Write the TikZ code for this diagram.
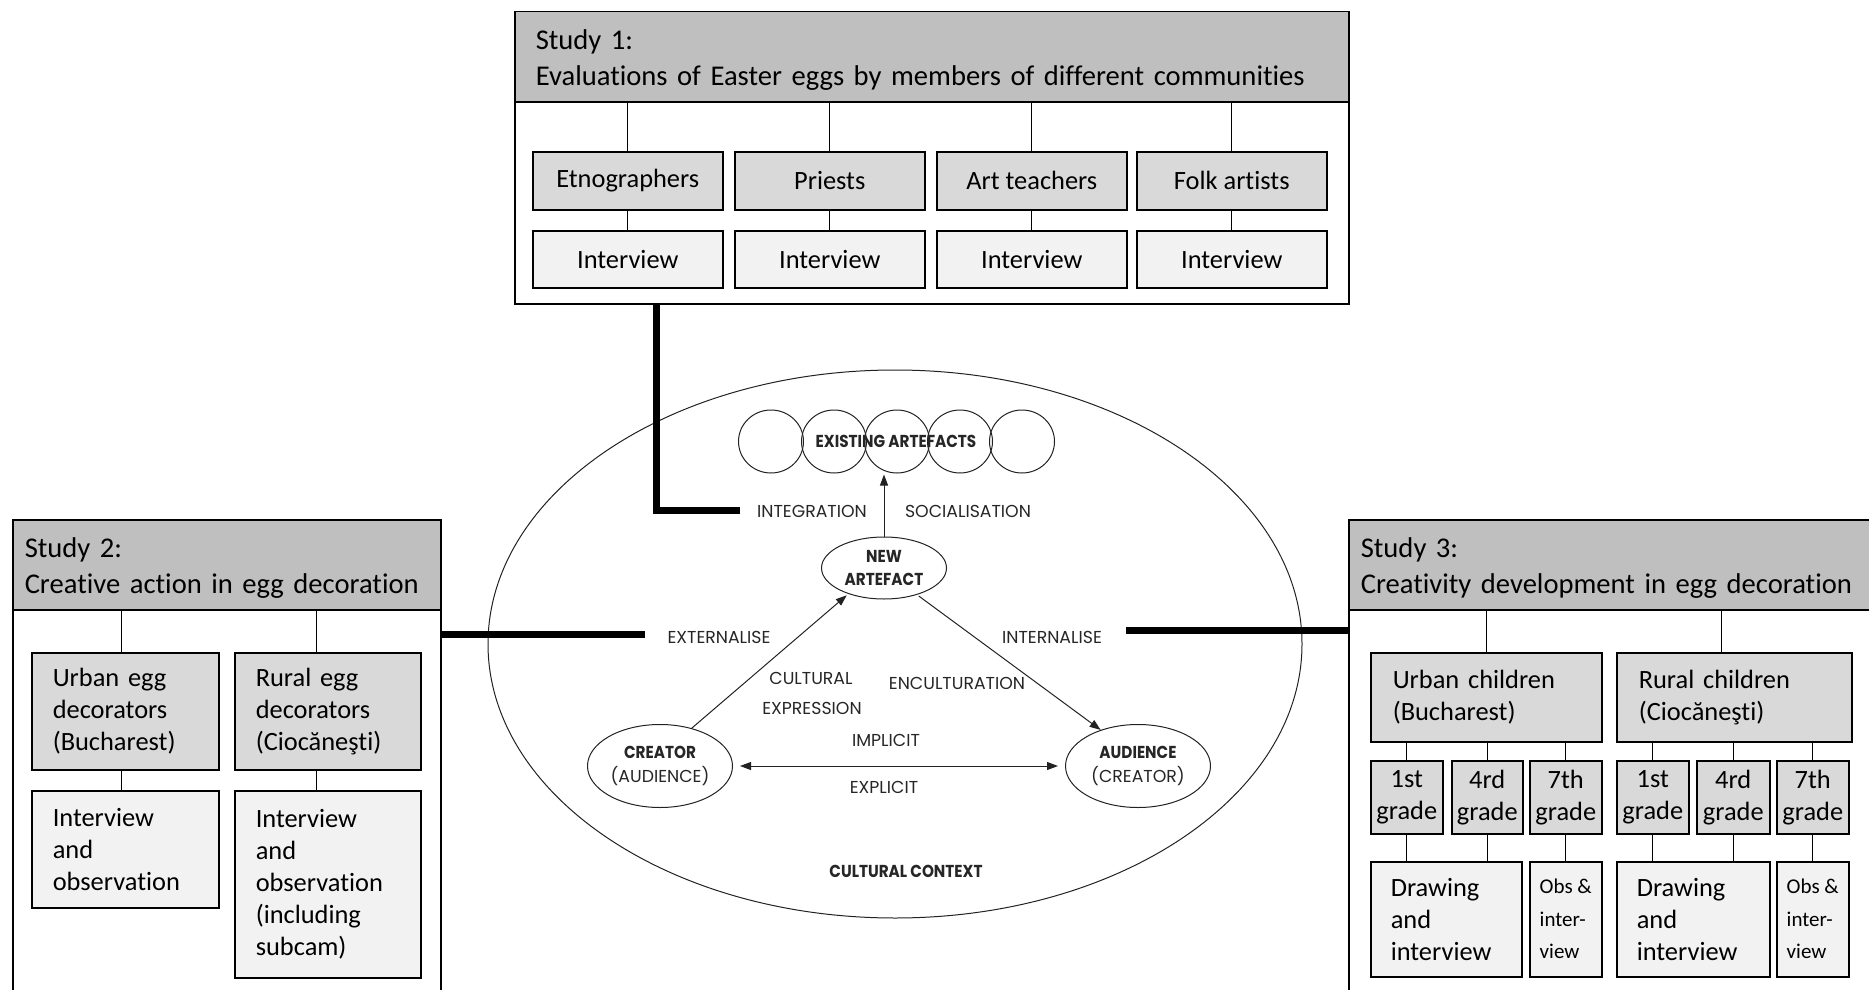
\documentclass[tikz,border=0pt]{standalone}
\usepackage{fontspec}
\setmainfont{Carlito}[Ligatures=CommonOff]
\newfontfamily\gothic{Poppins}[BoldFeatures={FakeStretch=0.88}]
\usetikzlibrary{arrows.meta,shapes.geometric}

\definecolor{hdrfill}{HTML}{BFBFBF}
\definecolor{lvlafill}{HTML}{D9D9D9}
\definecolor{lvlbfill}{HTML}{F2F2F2}
\definecolor{diagline}{HTML}{222222}
\definecolor{diagtext}{HTML}{262626}

\newcommand\hdrfont{\fontsize{28.6}{36}\selectfont}
\newcommand\boxfont{\fontsize{26.4}{32}\selectfont}
\newcommand\smallboxfont{\fontsize{21}{32.5}\selectfont}
\newcommand\dlabel{\gothic\fontsize{17.3}{23.5}\selectfont}
\newcommand\dbold{\gothic\bfseries\fontsize{17.3}{23.5}\selectfont}
% taller first line, so the header text sits a little lower in its band
\newcommand\hdrstrut{\rule{0pt}{27pt}}

\begin{document}
\begin{tikzpicture}[x=1pt,y=-1pt,
  frame/.style={draw, line width=1.5pt, anchor=north west, inner sep=0pt},
  hdr/.style={draw, line width=1.5pt, fill=hdrfill, anchor=north west,
    inner ysep=0pt, align=left, font=\hdrfont},
  lvla/.style={draw, line width=1.5pt, fill=lvlafill, anchor=north west,
    inner ysep=0pt, font=\boxfont},
  lvlb/.style={draw, line width=1.5pt, fill=lvlbfill, anchor=north west,
    inner ysep=0pt, font=\boxfont},
  link/.style={line width=1.3pt},
  bigline/.style={line width=7pt},
  oval/.style={ellipse, draw=diagline, line width=1pt, inner sep=0pt},
  arr/.style={draw=diagline, line width=1pt, -{Triangle[length=11pt,width=8pt]}},
  darr/.style={draw=diagline, line width=1pt,
    {Triangle[length=11pt,width=8pt]}-{Triangle[length=11pt,width=8pt]}},
  lbl/.style={text=diagtext, font=\dlabel, inner sep=0pt},
  lblb/.style={text=diagtext, font=\dbold, inner sep=0pt},
]
\useasboundingbox (0,0) rectangle (1869,990);
\clip (0,0) rectangle (1869,990);

% ---------- cultural context model ----------
\node[oval, minimum width=814pt, minimum height=548pt] (ctx) at (895,644) {};
\foreach \i/\x in {1/771,2/834,3/897,4/960,5/1022}
  \node[oval, minimum width=65pt, minimum height=63pt] (a\i) at (\x,441.5) {};
\node[lblb] (exist) at (896,441) {EXISTING ARTEFACTS};

\node[oval, minimum width=125pt, minimum height=62pt, align=center, text=diagtext, font=\dbold]
  (newart) at (884,568) {NEW\\ARTEFACT};
\node[oval, minimum width=145pt, minimum height=83pt, align=center, text=diagtext, font=\dlabel]
  (creator) at (660,766) {{\dbold CREATOR}\\(AUDIENCE)};
\node[oval, minimum width=145pt, minimum height=83pt, align=center, text=diagtext, font=\dlabel]
  (audience) at (1138,766) {{\dbold AUDIENCE}\\(CREATOR)};

\draw[arr, shorten >=1pt] (newart.north) -- (newart.north |- a3.south);
\draw[arr, shorten >=2pt] (creator.50) -- (newart.216);
\draw[arr, shorten <=2pt] (newart.-39) -- (audience.136);
\draw[darr, shorten <=7pt, shorten >=7pt] (creator.east) -- (audience.west);

\node[lbl] (integ) at (812,511) {INTEGRATION};
\node[lbl] (social) at (968,511) {SOCIALISATION};
\node[lbl] (extern) at (719,637) {EXTERNALISE};
\node[lbl] (intern) at (1052,637) {INTERNALISE};
\node[lbl] (cult) at (811,678) {CULTURAL};
\node[lbl] (expr) at (812,708) {EXPRESSION};
\node[lbl] (encult) at (957,683) {ENCULTURATION};
\node[lbl] (impl) at (886,740) {IMPLICIT};
\node[lbl] (expl) at (884,787) {EXPLICIT};
\node[lblb] (context) at (906,871) {CULTURAL CONTEXT};

% ---------- Study 1 ----------
\node[frame, minimum width=834pt, minimum height=292pt] (s1) at (514,11) {};
\node[hdr, text width=792pt, inner xsep=21pt, minimum height=90pt] (h1) at (514,11)
  {\hdrstrut Study 1:\\Evaluations of Easter eggs by members of different communities};
\foreach \n/\x/\t in {1/532/Etnographers,2/734/Priests,3/936/Art teachers,4/1136/Folk artists}{
  \node[lvla, minimum width=190pt, minimum height=58pt] (e\n) at (\x,151) {\t};
  \node[lvlb, minimum width=190pt, minimum height=57pt] (i\n) at (\x,230) {Interview};
  \draw[link] (h1.south -| e\n.north) -- (e\n.north);
  \draw[link] (e\n.south) -- (i\n.north);
}

% ---------- Study 2 ----------
\node[frame, minimum width=428pt, minimum height=500pt] (s2) at (12,519) {};
\node[hdr, text width=404pt, inner xsep=12pt, minimum height=90pt] (h2) at (12,519)
  {\hdrstrut Study 2:\\Creative action in egg decoration};
\node[lvla, text width=145pt, inner xsep=21pt, minimum height=117pt, align=left] (u2) at (31,652)
  {Urban egg\\decorators\\(Bucharest)};
\node[lvla, text width=144pt, inner xsep=21pt, minimum height=117pt, align=left] (r2) at (234,652)
  {Rural egg\\decorators\\(Ciocăneşti)};
\node[lvlb, text width=145pt, inner xsep=21pt, minimum height=117pt, align=left] (ui2) at (31,790)
  {Interview\\and\\observation};
\node[lvlb, text width=144pt, inner xsep=21pt, minimum height=187pt, align=left] (ri2) at (234,790)
  {Interview\\and\\observation\\(including\\subcam)};
\draw[link] ([xshift=-4pt]u2.north |- h2.south) -- ([xshift=-4pt]u2.north);
\draw[link] ([xshift=-11pt]r2.north |- h2.south) -- ([xshift=-11pt]r2.north);
\draw[link] ([xshift=-4pt]u2.south) -- ([xshift=-4pt]ui2.north);
\draw[link] ([xshift=-11pt]r2.south) -- ([xshift=-11pt]ri2.north);

% ---------- Study 3 ----------
\node[frame, minimum width=540pt, minimum height=500pt] (s3) at (1348,519) {};
\node[hdr, text width=516pt, inner xsep=12pt, minimum height=90pt] (h3) at (1348,519)
  {\hdrstrut Study 3:\\Creativity development in egg decoration};
\node[lvla, text width=187pt, inner xsep=22pt, minimum height=89pt, align=left] (uc) at (1370,652)
  {Urban children\\(Bucharest)};
\node[lvla, text width=191pt, inner xsep=22pt, minimum height=89pt, align=left] (rc) at (1616,652)
  {Rural children\\(Ciocăneşti)};
\foreach \n/\x/\w/\g in {1/1370/72/1st,2/1451/71/4rd,3/1529/72/7th,4/1616/72/1st,5/1696/73/4rd,6/1776/72/7th}
  \node[lvla, minimum width=\w pt, minimum height=73pt, inner xsep=1pt, align=center] (g\n) at (\x,760)
    {\g\\grade};
\node[lvlb, text width=111pt, inner xsep=20pt, minimum height=115pt, align=left] (d1) at (1370,861)
  {Drawing\\and\\interview};
\node[lvlb, minimum width=72pt, minimum height=115pt, inner xsep=4pt, align=left, font=\smallboxfont] (o1) at (1529,861)
  {Obs \&\\inter-\\view};
\node[lvlb, text width=113pt, inner xsep=20pt, minimum height=115pt, align=left] (d2) at (1616,861)
  {Drawing\\and\\interview};
\node[lvlb, minimum width=72pt, minimum height=115pt, inner xsep=4pt, align=left, font=\smallboxfont] (o2) at (1776,861)
  {Obs \&\\inter-\\view};
\draw[link] (uc.north |- h3.south) -- (uc.north);
\draw[link] ([xshift=-13pt]rc.north |- h3.south) -- ([xshift=-13pt]rc.north);
\foreach \n in {1,2,3} \draw[link] (g\n.north |- uc.south) -- (g\n.north);
\foreach \n in {4,5,6} \draw[link] (g\n.north |- rc.south) -- (g\n.north);
\draw[link] (g1.south) -- (g1.south |- d1.north);
\draw[link] (g2.south) -- (g2.south |- d1.north);
\draw[link] (g3.south) -- (g3.south |- o1.north);
\draw[link] (g4.south) -- (g4.south |- d2.north);
\draw[link] (g5.south) -- (g5.south |- d2.north);
\draw[link] (g6.south) -- (g6.south |- o2.north);

% ---------- heavy links from the studies into the model ----------
\coordinate (integend) at (740,510);
\coordinate (externend) at (645,634);
\coordinate (internend) at (1126,630);
\draw[bigline] ([xshift=142pt]s1.south west) |- (integend);
\draw[bigline] ([yshift=-115pt]s2.north east) -- (externend);
\draw[bigline] (internend) -- ([yshift=-111pt]s3.north west);
\end{tikzpicture}
\end{document}
